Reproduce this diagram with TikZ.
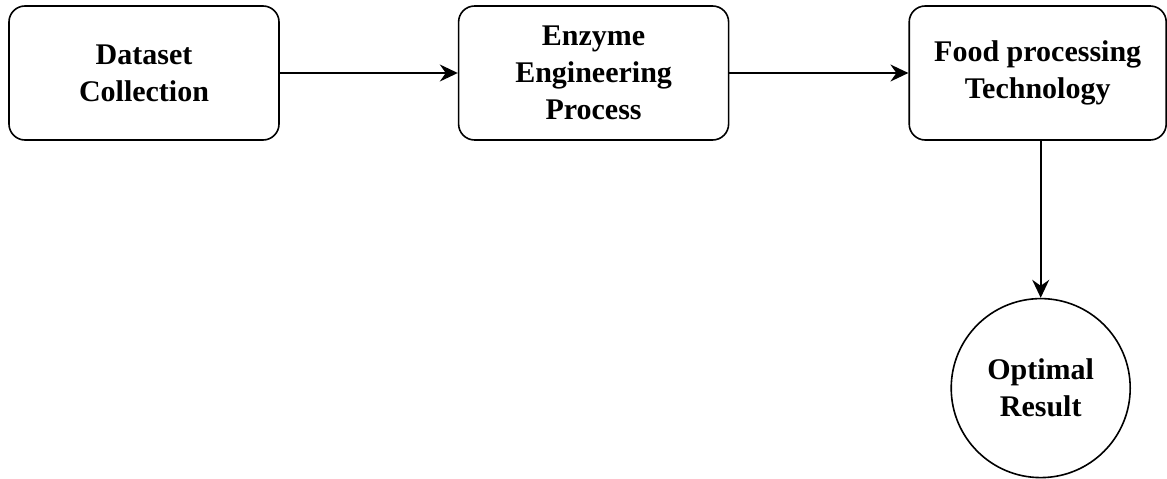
\documentclass[tikz,border=0pt]{standalone}
\usepackage{fontspec}
\setmainfont{Liberation Serif}
\usetikzlibrary{positioning,arrows.meta}

\tikzset{
  stage/.style={draw, line width=1.6pt, rounded corners=16pt, align=center,
    minimum width=270pt, minimum height=134pt, inner sep=0pt,
    font=\fontsize{30}{37}\selectfont\bfseries},
  result/.style={draw, circle, line width=1.6pt, align=center,
    minimum size=179pt, inner sep=0pt,
    font=\fontsize{30}{37}\selectfont\bfseries},
  flow/.style={-{Stealth[length=18pt,width=17pt,inset=6pt]}, line width=1.6pt}
}

\begin{document}
\begin{tikzpicture}[x=1pt,y=1pt]
	\useasboundingbox (0,0) rectangle (1167,-479);
	% Define nodes
	\node[stage] (data) at (144,-73) {Dataset\\Collection};
	\node[stage, right=178pt of data] (enzyme) {Enzyme\\Engineering\\Process};
	\node[stage, right=179pt of enzyme, minimum width=257pt] (food) {Food processing\\Technology};
	\node[result, below=157pt of food, xshift=3pt] (optimal) {Optimal\\Result};
	% Connect the nodes
	\draw[flow] (food.south -| optimal.north) -- (optimal);
	\draw[flow] (data) -- (enzyme);
	\draw[flow] (enzyme) -- (food);
\end{tikzpicture}
\end{document}
